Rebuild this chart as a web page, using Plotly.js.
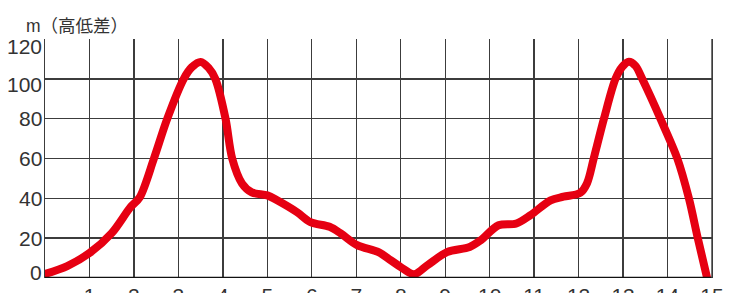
<!DOCTYPE html>
<html>
<head>
<meta charset="utf-8">
<script src="https://cdn.plot.ly/plotly-3.0.1.min.js"></script>
<style>html,body{margin:0;padding:0;background:#fff;}#chart{width:731px;height:293px;}
#chart path.js-line{stroke-linejoin:round;stroke-linecap:round;}</style>
</head>
<body>
<div id="chart"></div>
<script>
// distance (x) and elevation difference (m)
const distance = [0, 0.5, 1, 1.5, 1.92, 2.13, 2.45, 2.75, 3.12, 3.3, 3.5, 3.68, 3.83, 4.06, 4.21, 4.43, 4.65, 5.0, 5.22, 5.67, 5.97, 6.4, 6.65, 7.02, 7.5, 7.77, 8.0, 8.3, 8.6, 9.04, 9.55, 9.8, 10.2, 10.6, 10.92, 11.37, 11.66, 12.04, 12.19, 12.34, 12.57, 12.83, 12.98, 13.13, 13.28, 13.43, 13.84, 14.22, 14.48, 14.68, 14.89];
const elevation = [2, 6, 12.5, 22.5, 35.5, 40.5, 60, 80, 100, 105.8, 108.5, 105.5, 100, 80, 60, 47.5, 43, 41.5, 39, 33, 28, 25.7, 22.4, 16.5, 13, 9, 5.5, 1.9, 6.4, 13, 15.6, 19, 26.5, 27.4, 31.6, 39, 40.8, 42.8, 47.6, 60, 80, 100, 106, 108.6, 106.5, 100, 80, 60, 40, 20, 0];
const xTicks = [1,2,3,4,5,6,7,8,9,10,11,12,13,14,15];
const yTicks = [0,20,40,60,80,100,120];
const titleText = 'm（高低差）';

const gridColor = '#3c3c3c';
const fontFam = '"Liberation Sans", Arial, "Noto Sans CJK JP", sans-serif';
// vertical nudges of some y tick labels, as in the original print layout
const yLabelShift = {0: 6, 100: -6, 120: -7};

const yLabelAnnotations = yTicks.map(v => ({
  xref: 'paper', yref: 'y', x: 0, y: v,
  text: String(v), showarrow: false,
  xanchor: 'right', yanchor: 'middle', xshift: -1,
  yshift: yLabelShift[v] || 0,
  font: {family: fontFam, size: 21, color: '#333'}
}));

Plotly.newPlot('chart', [{
  x: distance,
  y: elevation,
  type: 'scatter',
  mode: 'lines',
  line: {color: '#e60012', width: 8, shape: 'spline', smoothing: 0.9},
  hoverinfo: 'skip'
}], {
  width: 731, height: 293,
  margin: {l: 44.5, r: 19.4, t: 39.4, b: 15.3},
  paper_bgcolor: '#fff', plot_bgcolor: '#fff',
  showlegend: false,
  title: {
    text: titleText,
    x: 26/731, xanchor: 'left', xref: 'container',
    y: 1 - 26/293, yanchor: 'middle', yref: 'container',
    font: {family: '"Liberation Sans", "Noto Sans CJK JP", sans-serif', size: 17.5, color: '#333'}
  },
  xaxis: {
    range: [0, 15],
    tickvals: xTicks,
    ticktext: xTicks.map(String),
    showgrid: true, gridcolor: gridColor, gridwidth: 1.4,
    zeroline: false,
    showline: false,
    ticks: '',
    ticklabelstandoff: 3,
    tickfont: {family: fontFam, size: 21, color: '#333'},
    fixedrange: true
  },
  yaxis: {
    range: [0, 120],
    tickvals: yTicks,
    showticklabels: false,
    showgrid: true, gridcolor: gridColor, gridwidth: 1.4,
    zeroline: false,
    showline: true, linecolor: gridColor, linewidth: 1.4, mirror: true,
    ticks: '',
    fixedrange: true
  },
  annotations: yLabelAnnotations,
  shapes: [
    {type: 'line', xref: 'paper', yref: 'y', x0: 0, x1: 1, y0: 0, y1: 0, line: {color: '#111', width: 2.6}},
    {type: 'line', xref: 'x', yref: 'paper', x0: 15, x1: 15, y0: 0, y1: 1, line: {color: gridColor, width: 1.4}}
  ]
}, {staticPlot: true, displayModeBar: false});
</script>
</body>
</html>
